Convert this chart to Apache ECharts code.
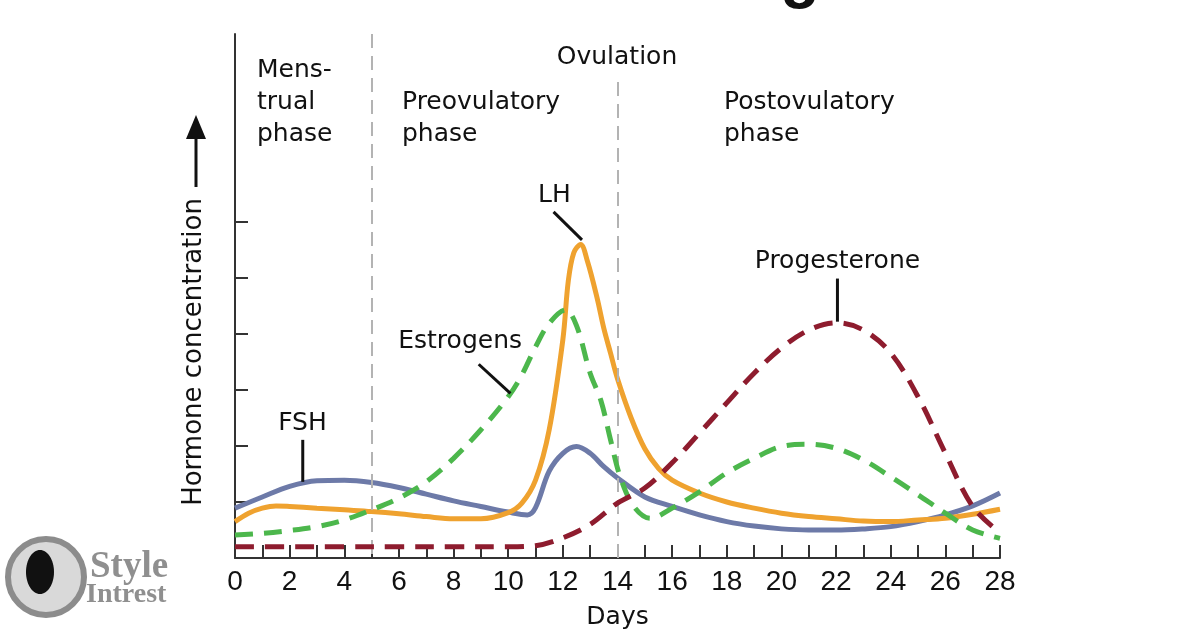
<!DOCTYPE html>
<html>
<head>
<meta charset="utf-8">
<script src="https://cdn.jsdelivr.net/npm/echarts@6/dist/echarts.min.js"></script>
<style>html,body{margin:0;padding:0;background:#fff}#c{width:1200px;height:630px}</style>
</head>
<body>
<div id="c"></div>
<script>
// ---- data (days, relative hormone concentration in tick units) ----
const fshDays = [0,1,2,3,4,5,6,7,8,9,10,10.7,11,11.5,12,12.5,13,13.5,14,15,16,17,18,19,20,21,22,23,24,25,26,27,28];
const fshValues = [0.89,1.09,1.28,1.38,1.39,1.35,1.26,1.14,1.02,0.92,0.82,0.77,0.9,1.55,1.87,1.99,1.87,1.63,1.43,1.09,0.92,0.77,0.65,0.57,0.52,0.5,0.5,0.52,0.56,0.65,0.77,0.93,1.16];

const lhDays = [0,0.5,1,1.5,2,3,4,5,6,7,8,9,10,10.5,11,11.5,12,12.2,12.4,12.65,12.9,13.25,13.5,13.75,14,14.5,15,15.5,16,17,18,19,20,21,22,23,24,25,26,27,28];
const lhValues = [0.65,0.8,0.89,0.93,0.92,0.89,0.86,0.83,0.79,0.74,0.7,0.7,0.81,0.98,1.39,2.29,3.9,4.95,5.45,5.6,5.3,4.65,4.1,3.65,3.2,2.5,1.95,1.6,1.39,1.16,1.0,0.89,0.8,0.74,0.7,0.66,0.65,0.68,0.71,0.78,0.87];

const estrogenDays = [0,1,2,3,4,5,6,7,8,9,10,10.5,11,11.5,12.1,12.5,13,13.4,13.75,14.1,14.6,15.2,16,17,18,19,20,21,22,23,24,25,26,27,28];
const estrogenValues = [0.41,0.44,0.49,0.56,0.68,0.86,1.07,1.36,1.78,2.29,2.88,3.27,3.77,4.19,4.43,4.15,3.3,2.8,2.1,1.45,0.92,0.71,0.89,1.18,1.52,1.78,1.99,2.03,1.96,1.75,1.45,1.13,0.8,0.5,0.35];

const progesteroneDays = [0,2,4,6,8,10,11,12,13,14,15,16,17,18,19,20,21,22,23,24,25,26,27,28];
const progesteroneValues = [0.2,0.2,0.2,0.2,0.2,0.2,0.22,0.36,0.6,0.98,1.25,1.7,2.23,2.77,3.3,3.75,4.07,4.2,4.07,3.66,2.88,1.87,0.92,0.45];

const seriesNames = ['FSH','LH','Estrogens','Progesterone'];
const xTickLabels = [0,2,4,6,8,10,12,14,16,18,20,22,24,26,28];
const yTickValues = [1,2,3,4,5,6];
const phaseBoundaryDays = [5,14];
const phaseTexts = ['Mens-\ntrual\nphase','Preovulatory\nphase','Ovulation','Postovulatory\nphase'];
const xAxisTitle = 'Days';
const yAxisTitle = 'Hormone concentration';

// label anchor (day,value) and leader from/to (day,value)
const seriesLabelAnchors = [[2.47,2.41],[11.69,6.48],[8.24,3.86],[22.05,5.30]];
const seriesLeaderFrom = [[2.48,2.11],[11.66,6.18],[8.92,3.46],[22.05,4.99]];
const seriesLeaderTo = [[2.48,1.36],[12.70,5.68],[10.08,2.94],[22.05,4.22]];

// ---- chart ----
const zip = (a,b) => a.map((d,i)=>[d,b[i]]);
const Y_MAX = 524/56;
const chart = echarts.init(document.getElementById('c'), null, {renderer:'canvas'});
const axisColor = '#333';
const textFont = 'DejaVu Sans';
const textColor = '#111';

function lineSeries(name, days, vals, color, dash, z){
  return {
    name, type:'line', data: zip(days, vals), smooth:0.35, symbol:'none', z,
    lineStyle:{color, width:5, type: dash || 'solid', cap:'butt'},
    emphasis:{disabled:true}, silent:true
  };
}

chart.setOption({
  animation:false,
  backgroundColor:'#fff',
  grid:{left:235,right:200,top:34,bottom:72,containLabel:false,outerBoundsMode:'none'},
  xAxis:{
    type:'value', min:0, max:28, interval:1,
    axisLine:{lineStyle:{color:axisColor,width:2}},
    axisTick:{inside:true,length:13,lineStyle:{color:axisColor,width:2}},
    axisLabel:{formatter:v=> xTickLabels.includes(v)?String(v):'', fontFamily:'Liberation Sans', fontSize:28, color:textColor, margin:10},
    splitLine:{show:false},
    name:xAxisTitle, nameLocation:'middle', nameGap:47,
    nameTextStyle:{fontFamily:textFont,fontSize:25,color:textColor}
  },
  yAxis:{
    type:'value', min:0, max:Y_MAX,
    axisLine:{show:true,lineStyle:{color:axisColor,width:2}},
    axisTick:{show:true,inside:true,length:13,customValues:yTickValues,lineStyle:{color:axisColor,width:2}},
    axisLabel:{show:false},
    splitLine:{show:false}
  },
  series:[
    {
      name:'phases', type:'line', data:[], z:1, silent:true,
      markLine:{
        silent:true, symbol:['none','none'], label:{show:false}, animation:false,
        lineStyle:{color:'#b3b3b3',width:2,type:[14,8]},
        emphasis:{disabled:true},
        data:[
          [{coord:[phaseBoundaryDays[0],Y_MAX]},{coord:[phaseBoundaryDays[0],0]}],
          [{coord:[phaseBoundaryDays[1],8.5]},{coord:[phaseBoundaryDays[1],0]}]
        ]
      }
    },
    lineSeries(seriesNames[0], fshDays, fshValues, '#6d7aa8', null, 3),
    lineSeries(seriesNames[1], lhDays, lhValues, '#efa22f', null, 4),
    lineSeries(seriesNames[2], estrogenDays, estrogenValues, '#4cb74c', [18,11], 5),
    lineSeries(seriesNames[3], progesteroneDays, progesteroneValues, '#8e1c2e', [19,11], 6)
  ]
});

// ---- annotations placed through the chart's own coordinate system ----
const px = (p) => chart.convertToPixel({gridIndex:0}, p);
const g = [];
seriesNames.forEach((n,i)=>{
  const a = px(seriesLabelAnchors[i]);
  g.push({type:'text', id:'lab'+i, x:a[0], y:a[1], z:20,
    style:{text:n, fontFamily:textFont, fontSize:25, fill:textColor, align:'center', verticalAlign:'middle'}});
  const f = px(seriesLeaderFrom[i]), t = px(seriesLeaderTo[i]);
  g.push({type:'line', id:'lead'+i, z:20, shape:{x1:f[0],y1:f[1],x2:t[0],y2:t[1]},
    style:{stroke:'#111',lineWidth:3}});
});
// phase texts
const phaseStyle = {fontFamily:textFont, fontSize:25, fill:textColor, lineHeight:32, align:'left', verticalAlign:'top'};
g.push({type:'text', id:'ph0', x:257, y:54, style:Object.assign({text:phaseTexts[0]}, phaseStyle)});
g.push({type:'text', id:'ph1', x:402, y:86, style:Object.assign({text:phaseTexts[1]}, phaseStyle)});
g.push({type:'text', id:'ph2', x:617, y:41, style:Object.assign({text:phaseTexts[2]}, phaseStyle, {align:'center'})});
g.push({type:'text', id:'ph3', x:724, y:86, style:Object.assign({text:phaseTexts[3]}, phaseStyle)});
// y axis title with arrow
g.push({type:'text', id:'ytitle', x:194, y:352, rotation:Math.PI/2,
  style:{text:yAxisTitle, fontFamily:textFont, fontSize:26, fill:textColor, align:'center', verticalAlign:'middle'}});
g.push({type:'line', id:'yarrowline', shape:{x1:196,y1:187,x2:196,y2:134}, style:{stroke:'#111',lineWidth:3}});
g.push({type:'polygon', id:'yarrowhead', shape:{points:[[196,115],[186,139],[206,139]]}, style:{fill:'#111'}});
// cut-off title fragment at top
g.push({type:'text', id:'topfrag', x:800, y:10, style:{text:'g', fontFamily:'Liberation Sans', fontWeight:'bold', fontSize:64, fill:'#111', align:'center', verticalAlign:'bottom'}});
// watermark
g.push({type:'circle', id:'wm0', shape:{cx:46,cy:577,r:38}, style:{fill:'#d9d9d9', stroke:'#8c8c8c', lineWidth:6}});
g.push({type:'ellipse', id:'wm1', shape:{cx:40,cy:572,rx:14,ry:22}, style:{fill:'#111'}});
g.push({type:'text', id:'wm2', x:90, y:567, style:{text:'Style', fontFamily:'Liberation Serif', fontWeight:'bold', fontSize:37, fill:'#8f8f8f', align:'left', verticalAlign:'middle'}});
g.push({type:'text', id:'wm3', x:86, y:595, style:{text:'Intrest', fontFamily:'Liberation Serif', fontWeight:'bold', fontSize:28, fill:'#8f8f8f', align:'left', verticalAlign:'middle'}});
chart.setOption({graphic:g});
</script>
</body>
</html>
